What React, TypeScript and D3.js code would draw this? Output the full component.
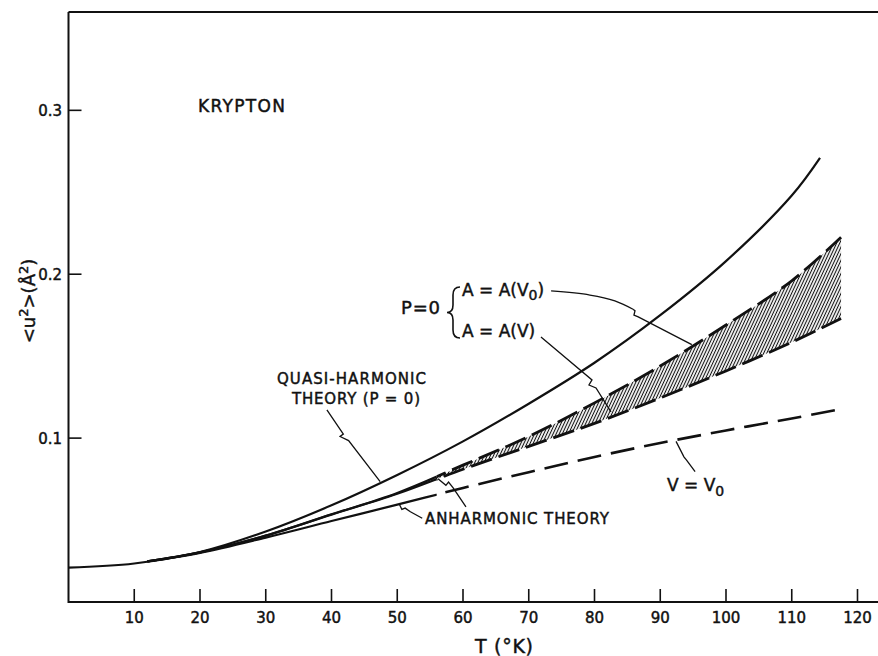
import React from 'react';
import * as d3 from 'd3';

// ---------- data ----------
const xTicks = [10, 20, 30, 40, 50, 60, 70, 80, 90, 100, 110, 120];
const yTicks = [0.1, 0.2, 0.3];
const yTickLabels = ['0.1', '0.2', '0.3'];

// Quasi-harmonic theory (P = 0)
const quasiT = [0, 10, 20, 30, 40, 50, 60, 70, 80, 90, 100, 110, 114.3];
const quasiU = [0.021, 0.0235, 0.0305, 0.043, 0.059, 0.0775, 0.098, 0.121, 0.146, 0.175, 0.208, 0.248, 0.271];

// Anharmonic theory curves
const anhT = [12, 20, 30, 40, 50, 60, 70, 80, 90, 100, 110, 117.5];
const aV0U = [0.0248, 0.0303, 0.0405, 0.0535, 0.0665, 0.0835, 0.101, 0.1215, 0.144, 0.169, 0.196, 0.2226]; // A = A(V0)
const aVU = [0.0248, 0.0303, 0.0405, 0.0533, 0.066, 0.081, 0.095, 0.109, 0.1245, 0.141, 0.1585, 0.173]; // A = A(V)
const v0U = [0.0248, 0.03, 0.0393, 0.0494, 0.0594, 0.0696, 0.0792, 0.0885, 0.097, 0.1047, 0.112, 0.1177]; // V = V0
const dashStartT = 56;

// leader lines in data coordinates [T, <u2>]
const quasiLeader: [number, number][] = [[39.3, 0.1172], [41.8, 0.1025], [41.3, 0.101], [42.6, 0.0985], [47.4, 0.0735]];
const aV0LeaderA: [number, number][] = [[73.4, 0.1898], [79.3, 0.1873], [83.1, 0.1837], [85.86, 0.1786]];
const aV0LeaderB: [number, number][] = [[85.86, 0.1786], [86.16, 0.1777], [86.0, 0.1751], [86.65, 0.174], [94.8, 0.157]];
const aVLeader: [number, number][] = [[71.86, 0.1617], [79.62, 0.1355], [79.16, 0.1324], [80.23, 0.1306], [82.5, 0.116]];
const anhLeader1: [number, number][] = [[53.8, 0.0511], [52.0, 0.0551], [51.2, 0.0573], [50.7, 0.0565], [50.3, 0.0598]];
const anhLeader2: [number, number][] = [[60.45, 0.058], [58.5, 0.0696], [57.8, 0.0732], [57.4, 0.0712], [56.2, 0.0752]];
const v0Leader: [number, number][] = [[95.3, 0.0795], [94.0, 0.0866], [93.6, 0.0886], [92.4, 0.098]];

const W = 878;
const H = 656;
const FONT = '"DejaVu Sans", "Liberation Sans", sans-serif';

export default function App() {
  const x = d3.scaleLinear().domain([0, 120]).range([68.5, 857.5]);
  const y = d3.scaleLinear().domain([0, 0.36]).range([602, 12]);

  const line = d3
    .line<[number, number]>()
    .x((d) => x(d[0]))
    .y((d) => y(d[1]))
    .curve(d3.curveCatmullRom.alpha(0.5));
  const straight = d3
    .line<[number, number]>()
    .x((d) => x(d[0]))
    .y((d) => y(d[1]));
  const smooth = d3
    .line<[number, number]>()
    .x((d) => x(d[0]))
    .y((d) => y(d[1]))
    .curve(d3.curveCatmullRom);

  const quasi = quasiT.map((t, i) => [t, quasiU[i]] as [number, number]);
  const upper = anhT.map((t, i) => [t, aV0U[i]] as [number, number]);
  const lower = anhT.map((t, i) => [t, aVU[i]] as [number, number]);
  const v0 = anhT.map((t, i) => [t, v0U[i]] as [number, number]);

  const area = d3
    .area<number>()
    .x((_, i) => x(anhT[i]))
    .y0((_, i) => y(aVU[i]))
    .y1((d) => y(d))
    .curve(d3.curveCatmullRom.alpha(0.5));

  const xs = x(dashStartT);
  const tickLen = 13;
  const x0 = x(0);
  const y0 = y(0);
  const yTop = y(0.36);

  const txt = { fontFamily: FONT, fill: '#111', stroke: '#111', strokeWidth: 0.45 } as const;

  return (
    <svg width={W} height={H} style={{ position: 'absolute', left: 0, top: 0, background: '#fff' }}>
      <defs>
        <pattern id="hatch" width="2.8" height="3" patternUnits="userSpaceOnUse" patternTransform="rotate(25)">
          <line x1="1.4" y1="0" x2="1.4" y2="3" stroke="#111" strokeWidth="1.1" />
        </pattern>
        <clipPath id="solidClip">
          <rect x={0} y={0} width={xs} height={H} />
        </clipPath>
        <clipPath id="dashClip">
          <rect x={xs} y={0} width={W - xs} height={H} />
        </clipPath>
      </defs>

      {/* frame */}
      <path d={`M${x0},${yTop}H${W}M${x0},${yTop}V${y0}H${W}`} fill="none" stroke="#111" strokeWidth={2} />
      {xTicks.map((t) => (
        <g key={t}>
          <line x1={x(t)} x2={x(t)} y1={y0} y2={y0 - tickLen} stroke="#111" strokeWidth={1.6} />
          <text x={x(t)} y={623} textAnchor="middle" fontSize={15} {...txt}>
            {t}
          </text>
        </g>
      ))}
      {yTicks.map((v, i) => (
        <g key={v}>
          <line x1={x0} x2={x0 + tickLen} y1={y(v)} y2={y(v)} stroke="#111" strokeWidth={1.6} />
          <text x={62} y={y(v) + 6} textAnchor="end" fontSize={15} {...txt}>
            {yTickLabels[i]}
          </text>
        </g>
      ))}

      {/* axis titles */}
      <text x={504} y={653} textAnchor="middle" fontSize={19} textLength={58} lengthAdjust="spacing" {...txt}>
        T (°K)
      </text>
      <text transform="translate(35,301) rotate(-90)" textAnchor="middle" fontSize={18} {...txt}>
        {'<u'}
        <tspan dy={-7} fontSize={13}>2</tspan>
        <tspan dy={7}>{'>(Å'}</tspan>
        <tspan dy={-7} fontSize={13}>2</tspan>
        <tspan dy={7}>)</tspan>
      </text>

      {/* hatched band */}
      <path d={area(aV0U) || ''} fill="url(#hatch)" stroke="none" />

      {/* quasi-harmonic */}
      <path d={line(quasi) || ''} fill="none" stroke="#111" strokeWidth={2.2} />

      {/* anharmonic curves: solid part */}
      <g clipPath="url(#solidClip)">
        <path d={line(upper) || ''} fill="none" stroke="#111" strokeWidth={2.2} />
        <path d={line(lower) || ''} fill="none" stroke="#111" strokeWidth={2.2} />
        <path d={line(v0) || ''} fill="none" stroke="#111" strokeWidth={2.2} />
      </g>
      {/* anharmonic curves: dashed part */}
      <g clipPath="url(#dashClip)">
        <path d={line(upper) || ''} fill="none" stroke="#111" strokeWidth={2.8} strokeDasharray="22 7" />
        <path d={line(lower) || ''} fill="none" stroke="#111" strokeWidth={2.8} strokeDasharray="22 7" strokeDashoffset={10} />
        <path d={line(v0) || ''} fill="none" stroke="#111" strokeWidth={2.6} strokeDasharray="24 10" />
      </g>

      {/* leaders */}
      <g fill="none" stroke="#111" strokeWidth={1.3}>
        <path d={straight(quasiLeader) || ''} />
        <path d={smooth(aV0LeaderA) || ''} />
        <path d={straight(aV0LeaderB) || ''} />
        <path d={straight(aVLeader) || ''} />
        <path d={straight(anhLeader1) || ''} />
        <path d={straight(anhLeader2) || ''} />
        <path d={straight(v0Leader) || ''} />
      </g>

      {/* brace */}
      <path
        d="M460,287 Q453,287 453,295 L453,305 Q453,312.5 447,312.5 Q453,312.5 453,320 L453,330 Q453,338 460,338"
        fill="none"
        stroke="#111"
        strokeWidth={1.6}
      />

      {/* labels */}
      <text x={198} y={112} fontSize={17} textLength={87} lengthAdjust="spacing" {...txt}>
        KRYPTON
      </text>
      <text x={277} y={384} fontSize={15} textLength={149} lengthAdjust="spacing" {...txt}>
        QUASI-HARMONIC
      </text>
      <text x={292} y={404} fontSize={15} textLength={128} lengthAdjust="spacing" {...txt}>
        THEORY  (P = 0)
      </text>
      <text x={401} y={314} fontSize={18} textLength={39} lengthAdjust="spacing" {...txt}>
        P = 0
      </text>
      <text x={462} y={296} fontSize={17} {...txt}>
        A = A(V
        <tspan dy={4} fontSize={14}>0</tspan>
        <tspan dy={-4}>)</tspan>
      </text>
      <text x={462} y={337} fontSize={17} {...txt}>
        A = A(V)
      </text>
      <text x={425} y={524} fontSize={15} textLength={184} lengthAdjust="spacing" {...txt}>
        ANHARMONIC THEORY
      </text>
      <text x={667} y={491} fontSize={17} {...txt}>
        V = V
        <tspan dy={5} fontSize={14}>0</tspan>
      </text>
    </svg>
  );
}
